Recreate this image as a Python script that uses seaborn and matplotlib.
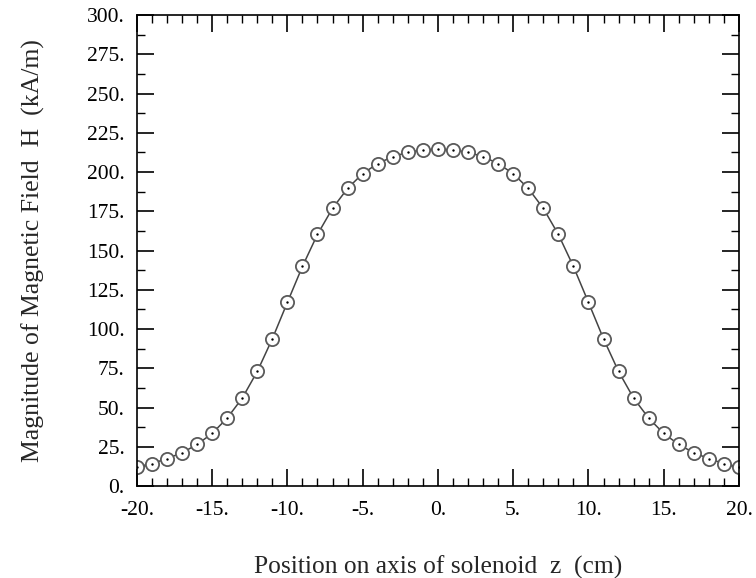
import matplotlib
matplotlib.use('Agg')
import matplotlib.pyplot as plt
from matplotlib.ticker import MultipleLocator, FuncFormatter
import seaborn as sns
import pandas as pd
import numpy as np

# Position along the solenoid axis (cm) and field magnitude (kA/m)
z_cm = list(range(-20, 21))
half_h = [12.3, 14.3, 17.5, 21.2, 26.5, 33.5, 43.3, 56.0, 73.0, 93.8,
          117.0, 139.9, 160.3, 176.9, 189.6, 199.0, 205.4, 209.8, 212.6, 214.1]
h_kam = half_h + [214.6] + half_h[::-1]

x_ticks = [-20, -15, -10, -5, 0, 5, 10, 15, 20]
y_ticks = [0, 25, 50, 75, 100, 125, 150, 175, 200, 225, 250, 275, 300]

df = pd.DataFrame({'z': z_cm, 'H': h_kam})

sns.set_style('white')
plt.rcParams['font.family'] = ['Liberation Serif', 'DejaVu Serif']

fig = plt.figure(figsize=(7.56, 5.78), dpi=100)
ax = fig.add_axes([0.181, 0.159, 0.7965, 0.815])

sns.lineplot(data=df, x='z', y='H', ax=ax, color='#444444', linewidth=1.1,
             marker='o', markersize=9.5, markerfacecolor='white',
             markeredgecolor='#5a5a5a', markeredgewidth=1.3)
sns.scatterplot(data=df, x='z', y='H', ax=ax, color='black', s=3,
                linewidth=0, zorder=5)

ax.set_xlim(-20, 20)
ax.set_ylim(0, 300)
ax.set_xticks(x_ticks)
ax.set_yticks(y_ticks)
ax.xaxis.set_minor_locator(MultipleLocator(1))
ax.yaxis.set_minor_locator(MultipleLocator(12.5))
fmt = FuncFormatter(lambda v, p: f'{v:.0f}.')
ax.xaxis.set_major_formatter(fmt)
ax.yaxis.set_major_formatter(fmt)

ax.tick_params(which='both', direction='in', top=True, right=True,
               bottom=True, left=True, colors='black', labelsize=15.5)
ax.tick_params(which='major', length=12, width=1.2)
ax.tick_params(which='minor', length=5.5, width=1.0)
ax.tick_params(axis='x', which='major', pad=11)
ax.tick_params(axis='y', which='major', pad=9)

for s in ax.spines.values():
    s.set_color('black')
    s.set_linewidth(1.2)

ax.set_xlabel('Position on axis of solenoid  z  (cm)', fontsize=18.4, labelpad=25)
ax.set_ylabel('Magnitude of Magnetic Field  H  (kA/m)', fontsize=18.5, labelpad=30)

fig.savefig('out.png', dpi=100)
